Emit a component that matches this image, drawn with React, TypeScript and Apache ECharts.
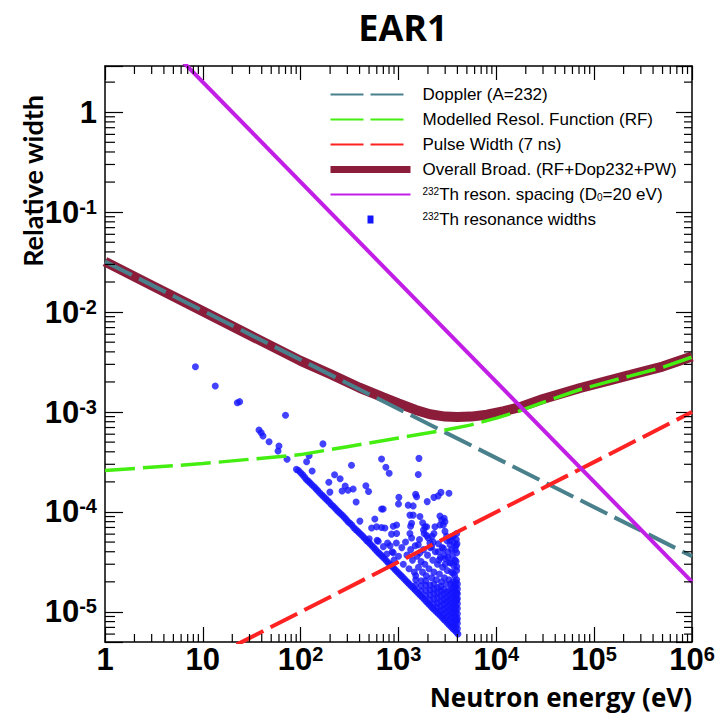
import React, { useEffect, useRef } from 'react';
import * as echarts from 'echarts';

const X_MIN = 1;
const X_MAX = 1e6;
const Y_MIN = 5e-6;
const Y_MAX = 2.9;

const xTickExponents = [0, 1, 2, 3, 4, 5, 6];
const yTickExponents = [-5, -4, -3, -2, -1, 0];

const dopplerLine = [[1, 0.032], [1e6, 3.6e-5]];
const resolutionFn = [
  [1, 2.6e-4], [10, 3.05e-4], [100, 3.75e-4], [300, 4.5e-4], [1000, 5.5e-4], [3000, 6.6e-4],
  [5400, 7.4e-4], [10000, 8.7e-4], [17000, 1.02e-3], [30000, 1.25e-3], [72000, 1.68e-3],
  [150000, 2.05e-3], [235000, 2.3e-3], [500000, 2.8e-3], [1000000, 3.55e-3],
];
const pulseWidth = [[10, 3.16e-6], [1e6, 1e-3]];
const overallBroad = [
  [1, 0.032], [3, 0.0185], [10, 0.0102], [30, 5.9e-3], [100, 3.25e-3], [200, 2.4e-3],
  [400, 1.75e-3], [700, 1.4e-3], [1000, 1.22e-3], [1500, 1.05e-3], [2100, 9.5e-4],
  [3000, 9.0e-4], [4000, 8.9e-4], [5500, 9.0e-4], [8000, 9.4e-4], [12000, 1.02e-3],
  [17400, 1.12e-3], [30000, 1.35e-3], [72000, 1.74e-3], [150000, 2.1e-3], [235000, 2.35e-3],
  [500000, 2.85e-3], [1000000, 3.6e-3],
];
const resonSpacing = [[5, 4], [1e6, 2e-5]];

// 232Th resonance widths (E in eV, relative width)
const resBand = [
  [95, 2.6e-4], [100, 2.47e-4], [105, 2.35e-4], [110, 2.22e-4], [115, 2.1e-4], [120, 2.03e-4],
  [125, 1.95e-4], [131, 1.86e-4], [138, 1.78e-4], [144, 1.7e-4], [150, 1.63e-4], [157, 1.55e-4],
  [165, 1.48e-4], [172, 1.42e-4], [180, 1.36e-4], [188, 1.3e-4], [196, 1.25e-4], [205, 1.19e-4],
  [215, 1.14e-4], [225, 1.09e-4], [235, 1.04e-4], [245, 1.0e-4], [256, 9.6e-5], [268, 9.2e-5],
  [280, 8.8e-5], [292, 8.4e-5], [305, 8.0e-5], [319, 7.7e-5], [333, 7.4e-5], [348, 7.0e-5],
  [363, 6.7e-5], [380, 6.45e-5], [396, 6.2e-5], [414, 5.95e-5], [432, 5.7e-5], [451, 5.45e-5],
  [470, 5.2e-5], [491, 5.0e-5], [512, 4.8e-5], [535, 4.6e-5], [558, 4.4e-5], [583, 4.2e-5],
  [608, 4.0e-5], [635, 3.85e-5], [662, 3.7e-5], [690, 3.55e-5], [720, 3.4e-5], [752, 3.25e-5],
  [785, 3.1e-5], [820, 2.98e-5], [855, 2.87e-5], [892, 2.75e-5], [930, 2.63e-5], [970, 2.52e-5],
  [1010, 2.42e-5], [1055, 2.32e-5], [1100, 2.23e-5], [1150, 2.13e-5], [1200, 2.04e-5],
  [1250, 1.96e-5], [1300, 1.88e-5], [1360, 1.8e-5], [1420, 1.73e-5], [1480, 1.66e-5],
  [1540, 1.59e-5], [1610, 1.52e-5], [1680, 1.46e-5], [1750, 1.4e-5], [1830, 1.34e-5],
  [1910, 1.28e-5], [1990, 1.23e-5], [2070, 1.18e-5], [2160, 1.13e-5], [2250, 1.08e-5],
  [2350, 1.04e-5], [2450, 1.0e-5], [2560, 9.6e-6], [2670, 9.2e-6], [2790, 8.8e-6], [2910, 8.4e-6],
  [3030, 8.1e-6], [3160, 7.75e-6], [3300, 7.4e-6], [3450, 7.1e-6], [3600, 6.8e-6], [3750, 6.55e-6],
  [3900, 6.3e-6], [4050, 6.0e-6],
];
const resUpper = [
  [8.4, 2.84e-3], [13.4, 1.82e-3], [22.5, 1.24e-3], [23.8, 1.27e-3], [70, 9.3e-4], [37.5, 6.6e-4],
  [39.5, 6.2e-4], [41.2, 5.75e-4], [47.5, 5.05e-4], [60, 4.57e-4], [58.7, 4.07e-4], [72.6, 3.37e-4],
  [90.5, 2.67e-4], [122, 3.66e-4], [115, 3.18e-4], [131, 2.57e-4], [169, 4.8e-4], [194, 1.98e-4],
  [199, 1.58e-4], [222, 2.36e-4], [253, 2.15e-4], [265, 1.62e-4], [285, 1.82e-4], [305, 1.65e-4],
  [344, 1.7e-4], [331, 2.93e-4], [369, 1.26e-4], [464, 1.83e-4], [494, 1.6e-4], [671, 3.39e-4],
  [743, 2.8e-4], [803, 2.44e-4], [1618, 3.44e-4], [1592, 2.37e-4], [403, 8.1e-5], [573, 8.5e-5],
  [605, 5.2e-5], [531, 6.9e-5], [502, 5.4e-5], [671, 1.07e-4], [697, 1.07e-4], [671, 7.0e-5],
  [726, 6.9e-5], [597, 7.1e-5], [883, 7.2e-5], [957, 7.4e-5], [849, 6.0e-5], [957, 6.1e-5],
  [620, 5.1e-5], [773, 4.9e-5], [883, 3.9e-5], [861, 4.0e-5], [1009, 1.4e-4], [1000, 1.2e-4],
  [1256, 1.17e-4], [1413, 1.15e-4], [1496, 1.5e-4], [1532, 1.42e-4], [1966, 1.27e-4], [2303, 1.4e-4],
  [2547, 1.45e-4], [2716, 1.57e-4], [3280, 1.54e-4], [1309, 9.3e-5], [1413, 9.3e-5], [1656, 9.0e-5],
  [1330, 7.2e-5], [1361, 7.7e-5], [2653, 9.1e-5], [2761, 8.3e-5], [2930, 8.65e-5], [2985, 8.0e-5],
  [2653, 7.4e-5], [1765, 7.8e-5], [1862, 7.1e-5], [1940, 7.1e-5], [1800, 6.6e-5], [1830, 6.1e-5],
  [1940, 5.8e-5], [1309, 6.1e-5], [1361, 5.5e-5], [2358, 7.1e-5], [2303, 6.1e-5], [2200, 5.7e-5],
  [2014, 5.5e-5], [2094, 4.9e-5], [2265, 5.0e-5], [2183, 4.5e-5], [2547, 4.0e-5], [2870, 7.4e-5],
  [2985, 6.4e-5], [3105, 5.7e-5], [3357, 5.2e-5], [3631, 5.7e-5], [3936, 6.1e-5], [3560, 5.7e-5],
  [3300, 5.5e-5], [1592, 4.7e-5], [1656, 3.9e-5], [3499, 4.2e-5], [3936, 3.9e-5], [3776, 3.3e-5],
  [3936, 2.84e-5], [3631, 2.44e-5], [3936, 2.1e-5], [3776, 1.8e-5], [3936, 1.54e-5], [3936, 1.32e-5],
  [3776, 1.05e-5], [3936, 8.3e-6], [3873, 4.6e-5], [3700, 4.9e-5], [3357, 4.7e-5], [3105, 5.2e-5],
  [2800, 4.4e-5], [2900, 3.7e-5], [3200, 3.5e-5], [3450, 3.1e-5], [3000, 3.0e-5], [2600, 3.3e-5],
];
const resMid = [
  [700, 4.5e-5], [760, 3.8e-5], [820, 4.6e-5], [900, 3.3e-5], [950, 4.9e-5], [1000, 3.6e-5],
  [1080, 4.4e-5], [1120, 3.0e-5], [1180, 5.0e-5], [1220, 3.7e-5], [1280, 2.7e-5], [1330, 4.2e-5],
  [1390, 3.3e-5], [1450, 2.5e-5], [1480, 4.6e-5], [1550, 3.6e-5], [1600, 2.8e-5], [1640, 5.3e-5],
  [1700, 3.2e-5], [1760, 2.5e-5], [1800, 4.2e-5], [1860, 3.0e-5], [1920, 2.3e-5], [1980, 3.7e-5],
  [2050, 2.7e-5], [2120, 4.4e-5], [2180, 2.2e-5], [2240, 3.3e-5], [2300, 2.5e-5], [2380, 4.0e-5],
  [2440, 2.1e-5], [2500, 3.0e-5], [2560, 4.8e-5], [2620, 2.4e-5], [2680, 3.5e-5], [2750, 2.0e-5],
  [2820, 2.8e-5], [2880, 4.3e-5], [2950, 2.2e-5], [3020, 3.4e-5], [3080, 1.9e-5], [3150, 2.6e-5],
  [3220, 4.0e-5], [3280, 2.1e-5], [3350, 3.1e-5], [3420, 1.9e-5], [3480, 2.5e-5], [3560, 3.6e-5],
  [3620, 2.0e-5], [3680, 2.9e-5], [3750, 2.3e-5], [3800, 4.2e-5], [3880, 3.2e-5], [3930, 2.6e-5],
  [3960, 4.8e-5], [3900, 5.3e-5],
];
const resDense = [
  [1500, 1.85e-5], [1500, 2.1e-5], [1500, 2.3e-5],
  [1700, 1.63e-5], [1700, 1.83e-5], [1700, 2.05e-5],
  [1900, 1.46e-5], [1900, 1.64e-5], [1900, 1.85e-5], [1900, 2.05e-5],
  [2100, 1.32e-5], [2100, 1.48e-5], [2100, 1.66e-5], [2100, 1.86e-5],
  [2300, 1.2e-5], [2300, 1.35e-5], [2300, 1.52e-5], [2300, 1.7e-5], [2300, 1.9e-5],
  [2500, 1.1e-5], [2500, 1.23e-5], [2500, 1.38e-5], [2500, 1.55e-5], [2500, 1.75e-5],
  [2700, 1.02e-5], [2700, 1.14e-5], [2700, 1.28e-5], [2700, 1.44e-5], [2700, 1.62e-5], [2700, 1.8e-5],
  [2900, 9.4e-6], [2900, 1.06e-5], [2900, 1.19e-5], [2900, 1.33e-5], [2900, 1.5e-5], [2900, 1.68e-5],
  [3100, 8.9e-6], [3100, 1.0e-5], [3100, 1.12e-5], [3100, 1.26e-5], [3100, 1.41e-5], [3100, 1.58e-5],
  [3300, 8.3e-6], [3300, 9.3e-6], [3300, 1.04e-5], [3300, 1.17e-5], [3300, 1.31e-5], [3300, 1.47e-5], [3300, 1.65e-5],
  [3500, 7.8e-6], [3500, 8.8e-6], [3500, 9.8e-6], [3500, 1.1e-5], [3500, 1.23e-5], [3500, 1.38e-5], [3500, 1.55e-5], [3500, 1.74e-5],
  [3700, 7.4e-6], [3700, 8.3e-6], [3700, 9.3e-6], [3700, 1.04e-5], [3700, 1.17e-5], [3700, 1.31e-5], [3700, 1.47e-5], [3700, 1.65e-5], [3700, 1.85e-5],
  [3850, 7.1e-6], [3850, 8.0e-6], [3850, 9.0e-6], [3850, 1.0e-5], [3850, 1.12e-5], [3850, 1.26e-5], [3850, 1.41e-5], [3850, 1.58e-5], [3850, 1.77e-5], [3850, 1.98e-5],
  [4000, 6.8e-6], [4000, 7.7e-6], [4000, 8.6e-6], [4000, 9.6e-6], [4000, 1.08e-5], [4000, 1.21e-5], [4000, 1.36e-5], [4000, 1.52e-5], [4000, 1.7e-5], [4000, 1.9e-5],
];

const N_DOP = 'Doppler (A=232)';
const N_RF = 'Modelled Resol. Function (RF)';
const N_PW = 'Pulse Width (7 ns)';
const N_OV = 'Overall Broad. (RF+Dop232+PW)';
const N_SP = '232Th reson. spacing (D0=20 eV)';
const N_RES = '232Th resonance widths';
const Y_NAME = 'Relative width';
const X_NAME = 'Neutron energy (eV)';

const C_DOP = '#4a808c';
const C_RF = '#44ee11';
const C_PW = '#ff2222';
const C_OV = '#8b1c3a';
const C_SP = '#c21fe6';
const C_RES = '#1414ff';

const F_AX = "'Liberation Sans', Arial, sans-serif";
const F_NAME = "'Open Sans', sans-serif";
const F_LEG = "'Liberation Sans', Arial, sans-serif";

const tickFormatter = (exps: number[]) => (v: number) => {
  const e = Math.log10(v);
  const r = Math.round(e);
  if (Math.abs(e - r) > 1e-6 || exps.indexOf(r) < 0) return '';
  if (r === 0) return '{b|1}';
  if (r === 1) return '{b|10}';
  return `{b|10}{s|${r}}`;
};

const labelRich = {
  b: { fontSize: 31, fontWeight: 'bold', fontFamily: F_AX, color: '#000', lineHeight: 31, padding: [6, 0, 0, 0], verticalAlign: 'bottom' },
  s: { fontSize: 20, fontWeight: 'bold', fontFamily: F_AX, color: '#000', lineHeight: 20, verticalAlign: 'top' },
};

const minorX: number[] = [];
for (let n = 0; n < 6; n++) for (let k = 2; k <= 9; k++) minorX.push(k * Math.pow(10, n));
const minorY: number[] = [];
for (let n = -6; n <= 0; n++) for (let k = 2; k <= 9; k++) {
  const v = k * Math.pow(10, n);
  if (v > Y_MIN && v < Y_MAX) minorY.push(v);
}

const legendFormatter = (name: string) => {
  if (name === N_SP) return '{sup|232}Th reson. spacing (D{sub|0}=20 eV)';
  if (name === N_RES) return '{sup|232}Th resonance widths';
  return name;
};

export default function App() {
  const ref = useRef<HTMLDivElement>(null);
  useEffect(() => {
    if (!ref.current) return;
    const chart = echarts.init(ref.current, undefined, { renderer: 'svg' });
    const axLine = { show: true, lineStyle: { color: '#000', width: 1.5 } };
    const dash = [30, 8];
    const legDash = { type: [33, 7] };
    chart.setOption({
      animation: false,
      backgroundColor: '#fff',
      title: {
        text: 'EAR1', left: 398, top: 4, textAlign: 'center',
        textStyle: { fontSize: 36, fontWeight: 'bold', fontFamily: "'Open Sans', sans-serif", color: '#000' },
      },
      graphic: [
        {
          type: 'text', x: 32, y: 95, rotation: Math.PI / 2, silent: true,
          style: {
            text: Y_NAME, fill: '#000', font: "bold 27px Lato, 'Open Sans', sans-serif",
            textAlign: 'right', textVerticalAlign: 'middle', align: 'right', verticalAlign: 'middle',
          },
        },
      ],
      grid: { left: 105, right: 24, top: 66, bottom: 82, outerBoundsMode: 'none', containLabel: false },
      legend: {
        orient: 'vertical', left: 327, top: 86, itemWidth: 80, itemHeight: 8, itemGap: 8, padding: 0,
        selectedMode: false,
        itemStyle: { opacity: 0 },
        data: [
          { name: N_DOP, lineStyle: legDash }, { name: N_RF, lineStyle: legDash }, { name: N_PW, lineStyle: legDash },
          { name: N_OV, lineStyle: { width: 7 } }, { name: N_SP },
          { name: N_RES, icon: 'path://M0,0H6V8H0Z', symbolKeepAspect: true, itemStyle: { opacity: 1 } },
        ],
        formatter: legendFormatter,
        textStyle: {
          fontFamily: F_LEG, fontSize: 17, color: '#000', lineHeight: 16, padding: [0, 0, 0, 7],
          rich: {
            sup: { fontFamily: F_LEG, fontSize: 10, lineHeight: 10, verticalAlign: 'top', color: '#000' },
            sub: { fontFamily: F_LEG, fontSize: 10, lineHeight: 8, verticalAlign: 'bottom', color: '#000' },
          },
        },
      },
      xAxis: [
        {
          type: 'log', logBase: 10, min: X_MIN, max: X_MAX, position: 'bottom',
          axisLine: axLine,
          axisTick: { inside: true, length: 15, lineStyle: { color: '#000', width: 1.2 } },
          axisLabel: { formatter: tickFormatter(xTickExponents), margin: 2, rich: labelRich },
          splitLine: { show: false },
          name: X_NAME, nameLocation: 'end', nameGap: 0,
          nameTextStyle: { fontSize: 26, fontWeight: 'bold', fontFamily: F_NAME, color: '#000', align: 'right', verticalAlign: 'top', padding: [42, 0, 0, 0] },
        },
        {
          type: 'log', logBase: 10, min: X_MIN, max: X_MAX, position: 'top',
          axisLine: axLine,
          axisTick: { inside: true, length: 14, lineStyle: { color: '#000', width: 1.2 } },
          axisLabel: { show: false }, splitLine: { show: false },
        },
      ],
      yAxis: [
        {
          type: 'log', logBase: 10, min: Y_MIN, max: Y_MAX, position: 'left',
          axisLine: axLine,
          axisTick: { inside: true, length: 18, lineStyle: { color: '#000', width: 1.2 } },
          axisLabel: { formatter: tickFormatter(yTickExponents), margin: 8, rich: labelRich },
          splitLine: { show: false },
        },
        {
          type: 'log', logBase: 10, min: Y_MIN, max: Y_MAX, position: 'right',
          axisLine: axLine,
          axisTick: { inside: true, length: 16, lineStyle: { color: '#000', width: 1.2 } },
          axisLabel: { show: false }, splitLine: { show: false },
        },
      ],
      series: [
        {
          type: 'custom', name: 'xminor', silent: true, clip: false, z: 5,
          data: minorX.map((v) => [v, 1e-2]),
          renderItem: (params: any, api: any) => {
            const cs = params.coordSys;
            const p = api.coord([api.value(0), api.value(1)]);
            const b = cs.y + cs.height;
            const t = cs.y;
            const st = { stroke: '#000', lineWidth: 1.2 };
            return {
              type: 'group', children: [
                { type: 'line', shape: { x1: p[0], y1: b, x2: p[0], y2: b - 8 }, style: st },
                { type: 'line', shape: { x1: p[0], y1: t, x2: p[0], y2: t + 8 }, style: st },
              ],
            };
          },
        },
        {
          type: 'custom', name: 'yminor', silent: true, clip: false, z: 5,
          data: minorY.map((v) => [10, v]),
          renderItem: (params: any, api: any) => {
            const cs = params.coordSys;
            const p = api.coord([api.value(0), api.value(1)]);
            const l = cs.x;
            const r = cs.x + cs.width;
            const st = { stroke: '#000', lineWidth: 1.2 };
            return {
              type: 'group', children: [
                { type: 'line', shape: { x1: l, y1: p[1], x2: l + 10, y2: p[1] }, style: st },
                { type: 'line', shape: { x1: r, y1: p[1], x2: r - 8, y2: p[1] }, style: st },
              ],
            };
          },
        },
        {
          type: 'scatter', name: N_RES, symbol: 'circle', symbolSize: 7,
          itemStyle: { color: C_RES }, data: [...resBand, ...resUpper, ...resMid, ...resDense],
        },
        {
          type: 'line', name: N_OV, data: overallBroad, symbol: 'none', smooth: false,
          lineStyle: { color: C_OV, width: 10 }, itemStyle: { color: C_OV },
        },
        {
          type: 'line', name: N_DOP, data: dopplerLine, symbol: 'none',
          lineStyle: { color: C_DOP, width: 4, type: dash }, itemStyle: { color: C_DOP },
        },
        {
          type: 'line', name: N_RF, data: resolutionFn, symbol: 'none',
          lineStyle: { color: C_RF, width: 3.5, type: dash }, itemStyle: { color: C_RF },
        },
        {
          type: 'line', name: N_PW, data: pulseWidth, symbol: 'none',
          lineStyle: { color: C_PW, width: 4, type: dash }, itemStyle: { color: C_PW },
        },
        {
          type: 'line', name: N_SP, data: resonSpacing, symbol: 'none',
          lineStyle: { color: C_SP, width: 4 }, itemStyle: { color: C_SP },
        },
      ],
    });
    return () => chart.dispose();
  }, []);
  return <div ref={ref} style={{ position: 'fixed', left: 0, top: 0, width: 716, height: 724, background: '#fff' }} />;
}
